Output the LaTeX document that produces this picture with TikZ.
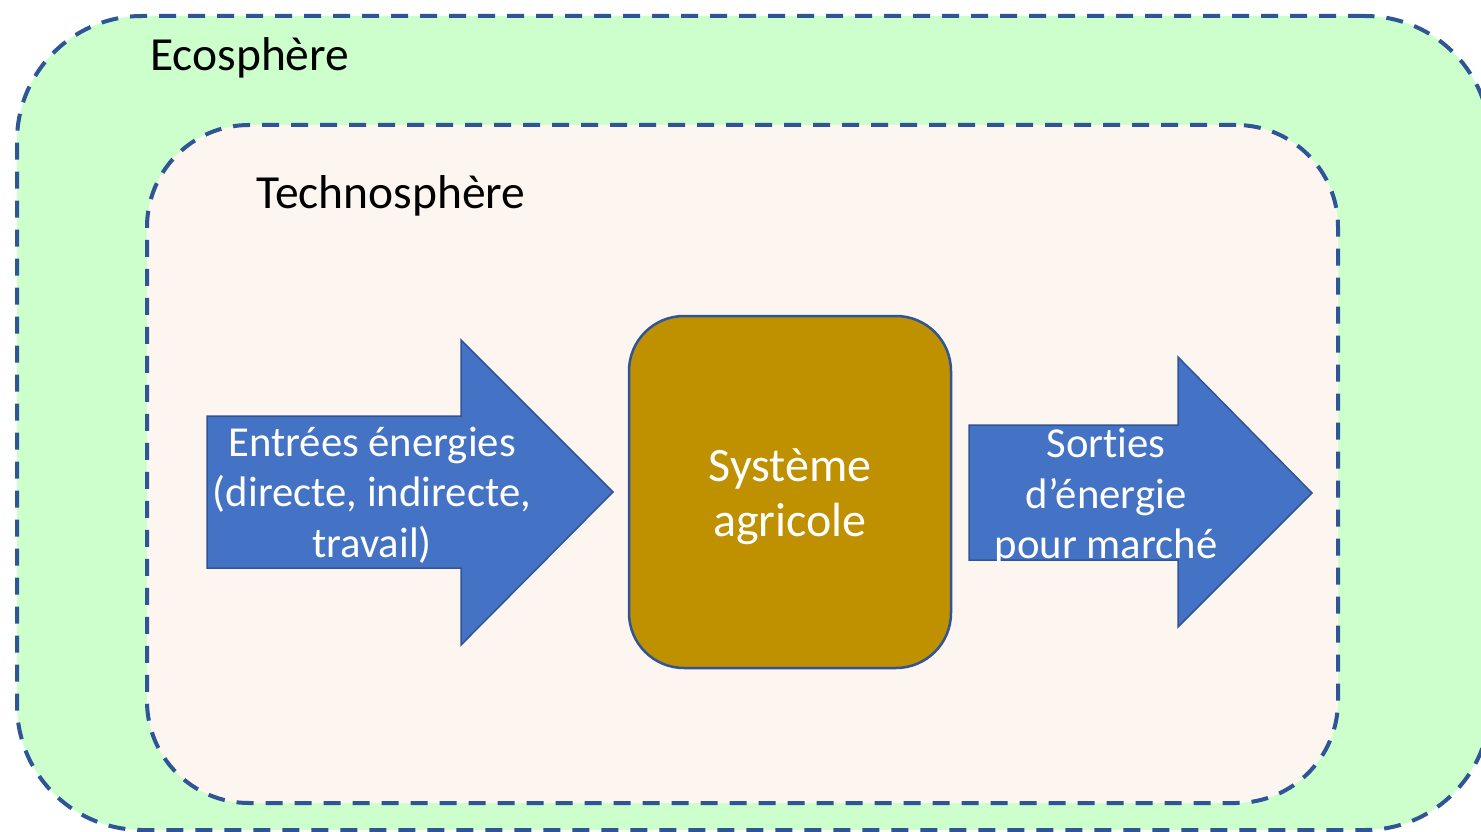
\documentclass[tikz,border=0pt]{standalone}
\usepackage{fontspec}
\setmainfont{Carlito}[Ligatures=NoCommon]
\definecolor{edgeblue}{HTML}{2F5597}
\definecolor{ecogreen}{HTML}{CCFFCC}
\definecolor{technopeach}{HTML}{FDF5F0}
\definecolor{arrowblue}{HTML}{4472C4}
\definecolor{agrigold}{HTML}{BF9000}
\begin{document}
\begin{tikzpicture}[x=1pt,y=-1pt,
  sphere/.style={draw=edgeblue, line width=4pt, dash pattern=on 17pt off 12pt,
                 inner sep=0pt, outer sep=0pt},
  spherelabel/.style={anchor=base west, inner sep=0pt, font=\fontsize{47.5}{55}\selectfont},
  flowarrow/.style={fill=arrowblue, draw=edgeblue, line width=1.5pt, line join=miter},
  flowtext/.style={text=white, align=center, inner sep=0pt, font=\fontsize{42.7}{50.5}\selectfont},
  systembox/.style={draw=edgeblue, line width=2.5pt, fill=agrigold, rounded corners=55pt,
                    minimum width=322pt, minimum height=352pt, inner sep=0pt},
  systemtext/.style={text=white, align=center, inner sep=0pt, font=\fontsize{48}{55}\selectfont}]
\useasboundingbox (0,0) rectangle (1481,832);

% nested spheres
\node[sphere, fill=ecogreen, rounded corners=125pt,
      minimum width=1473pt, minimum height=814pt] (eco) at (753.5,423) {};
\node[sphere, fill=technopeach, rounded corners=102pt,
      minimum width=1191pt, minimum height=678pt] (techno) at (742.5,464) {};
\node[spherelabel] (ecolabel) at (150,71) {Ecosphère};
\node[spherelabel] (technolabel) at (256,208) {Technosphère};

% input arrow
\draw[flowarrow] (207,416) -- (461,416) -- (461,340) -- (613,492)
  -- (461,645) -- (461,568) -- (207,568) -- cycle;
\node[flowtext] (inputs) at (372,495) {Entrées énergies\\(directe, indirecte,\\travail)};

% farming system
\node[systembox] (system) at (790,492) {};
\node[systemtext] (systemlabel) at (790,497) {Système\\agricole};

% output arrow
\draw[flowarrow] (969,425) -- (1178,425) -- (1178,357) -- (1312,493)
  -- (1178,627) -- (1178,560) -- (969,560) -- cycle;
\node[flowtext] (outputs) at (1106,497) {Sorties\\d’énergie\\pour marché};
\end{tikzpicture}
\end{document}
